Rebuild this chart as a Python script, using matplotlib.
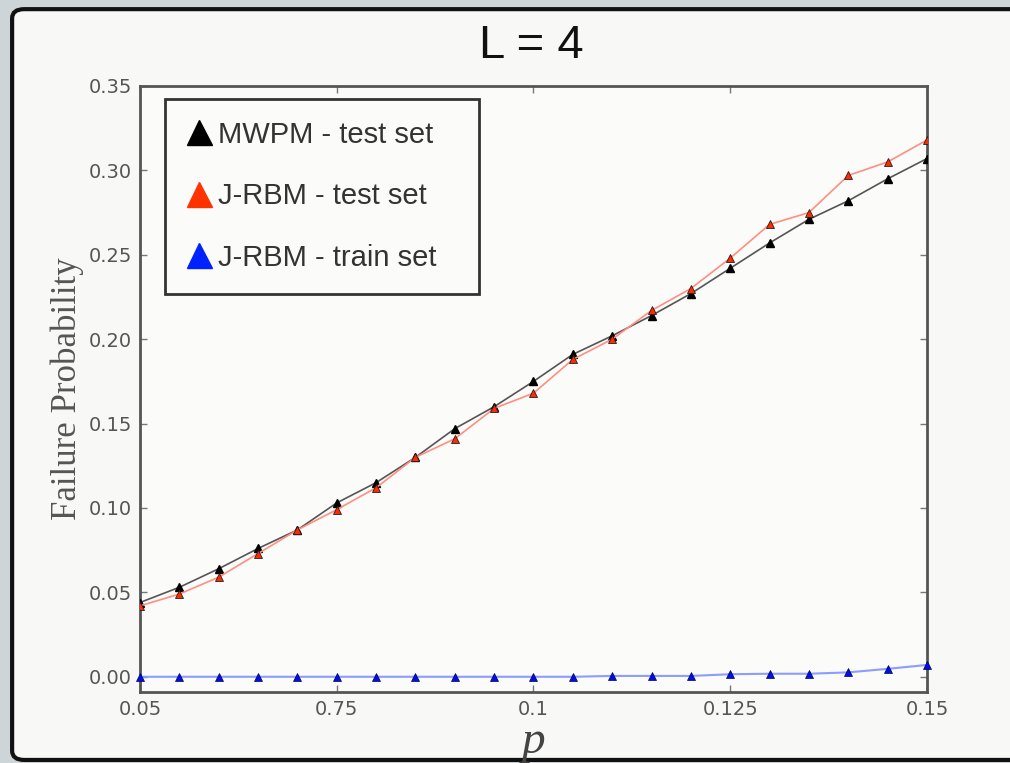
import matplotlib
matplotlib.use("Agg")
import matplotlib.pyplot as plt
from matplotlib.lines import Line2D
from matplotlib.patches import FancyBboxPatch

# error rate p, sampled every 0.005
p = [0.05, 0.055, 0.06, 0.065, 0.07, 0.075, 0.08, 0.085, 0.09, 0.095, 0.1,
     0.105, 0.11, 0.115, 0.12, 0.125, 0.13, 0.135, 0.14, 0.145, 0.15]

mwpm_test = [0.044, 0.053, 0.064, 0.076, 0.087, 0.103, 0.115, 0.130, 0.147, 0.160, 0.175,
             0.191, 0.202, 0.214, 0.227, 0.242, 0.257, 0.271, 0.282, 0.295, 0.307]
rbm_test = [0.042, 0.049, 0.059, 0.073, 0.087, 0.099, 0.112, 0.130, 0.141, 0.159, 0.168,
            0.188, 0.200, 0.217, 0.230, 0.248, 0.268, 0.275, 0.297, 0.305, 0.318]
rbm_train = [0.0, 0.0, 0.0, 0.0, 0.0, 0.0, 0.0, 0.0, 0.0, 0.0, 0.0,
             0.0, 0.0005, 0.0005, 0.0005, 0.0015, 0.0018, 0.0018, 0.0026, 0.0047, 0.007]

xticks = [0.05, 0.075, 0.1, 0.125, 0.15]
xticklabels = ['0.05', '0.75', '0.1', '0.125', '0.15']
yticks = [0.0, 0.05, 0.10, 0.15, 0.20, 0.25, 0.30, 0.35]

fig = plt.figure(figsize=(10.1, 7.63), dpi=100)
fig.patch.set_facecolor('#cdd5d9')

# slide frame (behind the axes)
frame = FancyBboxPatch((0.012, 0.004), 1.2, 0.984, boxstyle='round,pad=0,rounding_size=0.012',
                       transform=fig.transFigure, facecolor='#f8f9f7',
                       edgecolor='#111111', linewidth=3, zorder=-10)
fig.patches.append(frame)

ax = fig.add_axes([0.1386, 0.0931, 0.7792, 0.7942])
ax.set_zorder(1)
ax.set_facecolor('#fbfbfa')

ax.plot(p, mwpm_test, color='#555555', lw=1.2, marker='^', ms=6,
        mfc='black', mec='black', zorder=3)
ax.plot(p, rbm_test, color='#ff8f80', lw=1.2, marker='^', ms=6,
        mfc='#ff2a00', mec='#202020', mew=0.6, zorder=4)
ax.plot(p, rbm_train, color='#8c9cff', lw=1.5, marker='^', ms=6,
        mfc='#0010e0', mec='#000060', mew=0.5, zorder=4, clip_on=False)

ax.set_xlim(0.05, 0.15)
ax.set_ylim(-0.009, 0.35)
ax.set_xticks(xticks)
ax.set_xticklabels(xticklabels)
ax.set_yticks(yticks)
ax.set_yticklabels(['%.2f' % v for v in yticks])
ax.tick_params(direction='in', length=5, width=1, color='#777777', labelcolor='#555555',
               labelsize=14, top=True, right=True, pad=6)
for s in ax.spines.values():
    s.set_color('#555555')
    s.set_linewidth(2)

ax.set_ylabel('Failure Probability', family='Liberation Serif', fontsize=25,
              color='#555555', labelpad=3)
ax.set_xlabel('p', family='Liberation Serif', style='italic', fontsize=34,
              color='#444444', labelpad=1)
fig.text(0.526, 0.94, 'L = 4', ha='center', va='center', fontsize=34,
         family='Liberation Sans', color='#111111')

handles = [
    Line2D([], [], ls='none', marker='^', ms=18, mfc='black', mec='black'),
    Line2D([], [], ls='none', marker='^', ms=18, mfc='#ff3300', mec='#ff3300'),
    Line2D([], [], ls='none', marker='^', ms=18, mfc='#0022ff', mec='#0022ff'),
]
labels = ['MWPM - test set', 'J-RBM - test set', 'J-RBM - train set']
leg = ax.legend(handles, labels, loc='upper left', bbox_to_anchor=(0.032, 0.5, 0.399, 0.479),
                mode='expand', borderaxespad=0, prop={'family': 'Liberation Sans', 'size': 21},
                handlelength=0.8, handletextpad=0.25, labelspacing=1.15, borderpad=0.75,
                fancybox=False, framealpha=1)
leg.get_frame().set_edgecolor('#333333')
leg.get_frame().set_linewidth(2)
leg.get_frame().set_facecolor('#fbfbfa')
for t in leg.get_texts():
    t.set_color('#333333')

fig.savefig('out.png', dpi=100, facecolor=fig.get_facecolor())
